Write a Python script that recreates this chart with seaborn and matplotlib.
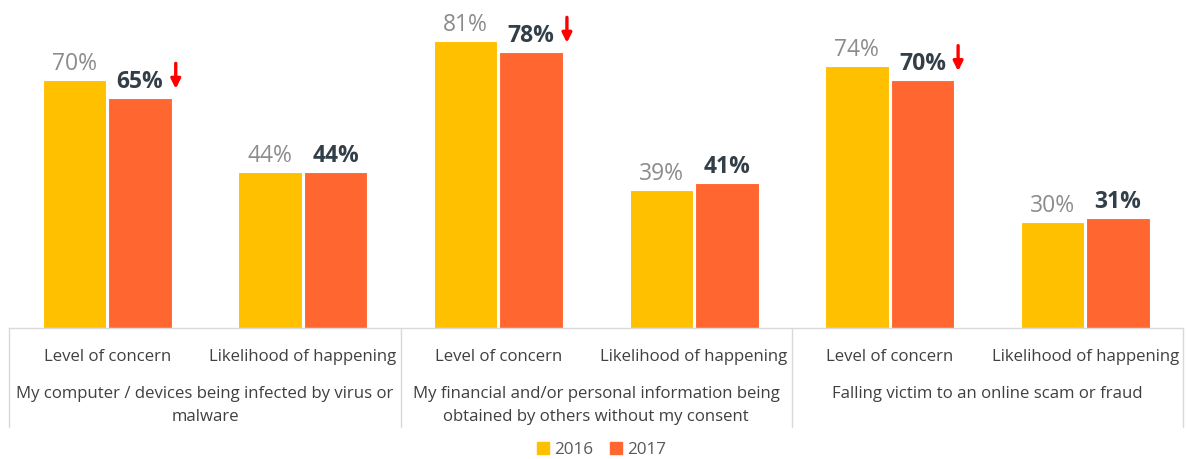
import pandas as pd
import numpy as np
import matplotlib.pyplot as plt
import seaborn as sns

# 数据
groups = ['My computer / devices being infected by virus or\nmalware',
          'My financial and/or personal information being\nobtained by others without my consent',
          'Falling victim to an online scam or fraud']
measures = ['Level of concern', 'Likelihood of happening']
years = ['2016', '2017']
values_2016 = [70, 44, 81, 39, 74, 30]
values_2017 = [65, 44, 78, 41, 70, 31]
decreased = [True, False, True, False, True, False]

colors = {'2016': '#FFC000', '2017': '#FF6630'}

slots = [f'{g}|{m}' for g in range(len(groups)) for m in measures]
df = pd.DataFrame({
    'slot': slots * 2,
    'year': ['2016'] * 6 + ['2017'] * 6,
    'value': values_2016 + values_2017,
})

sns.set_style('white')
plt.rcParams['font.family'] = ['Open Sans', 'DejaVu Sans']

fig = plt.figure(figsize=(11.86, 4.59), dpi=100)
ax = fig.add_axes([0.008, 0.2854, 0.9895, 0.7146])

sns.barplot(data=df, x='slot', y='value', hue='year', order=slots, hue_order=years,
            palette=colors, saturation=1, width=0.67, gap=0.03, edgecolor='white',
            linewidth=0.8, legend=False, ax=ax)

ax.set_xlim(-0.5, 5.5)
ax.set_ylim(0, 92.7)
ax.set_yticks([])
ax.set_xlabel('')
ax.set_ylabel('')
for s in ['top', 'right', 'left']:
    ax.spines[s].set_visible(False)
ax.spines['bottom'].set_color('#D9D9D9')
ax.spines['bottom'].set_linewidth(1)

ax.set_xticks(range(6))
ax.set_xticklabels(measures * 3, fontsize=12.1, color='#404040')
ax.tick_params(axis='x', length=0, pad=15)

# 数值标签
bw = 0.67 / 2
for i in range(6):
    x16 = i - bw / 2
    x17 = i + bw / 2
    ax.text(x16, values_2016[i] + 1.2, f'{values_2016[i]}%', ha='center', va='bottom',
            fontsize=16.5, color='#8C8C8C')
    ax.text(x17, values_2017[i] + 1.2, f'{values_2017[i]}%', ha='center', va='bottom',
            fontsize=16.5, color='#333F48', fontweight='bold')
    if decreased[i]:
        xa = i + bw + 0.015
        ax.annotate('', xy=(xa, values_2017[i] + 2.6), xytext=(xa, values_2017[i] + 9.8),
                    arrowprops=dict(arrowstyle='-|>', color='#FF0000', lw=2.4,
                                    mutation_scale=14, shrinkA=0, shrinkB=0))

# 分组分隔线
trans = ax.get_xaxis_transform()
for xs in [-0.5, 1.5, 3.5, 5.5]:
    ax.plot([xs, xs], [0, -0.302], transform=trans, color='#D9D9D9', lw=1, clip_on=False)

# 分组标签
for g, name in enumerate(groups):
    ax.text(2 * g + 0.5, -0.176, name, transform=trans, ha='center', va='top',
            fontsize=12.1, color='#404040', linespacing=1.6)

# 图例
handles = [plt.Rectangle((0, 0), 1, 1, color=colors[y]) for y in years]
fig.legend(handles, years, loc='center', bbox_to_anchor=(0.507, 0.02), ncol=2,
           frameon=False, fontsize=12.3, handlelength=0.7, handleheight=0.7,
           handletextpad=0.3, columnspacing=1.0, labelcolor='#595959')

fig.savefig('out.png', dpi=100)
